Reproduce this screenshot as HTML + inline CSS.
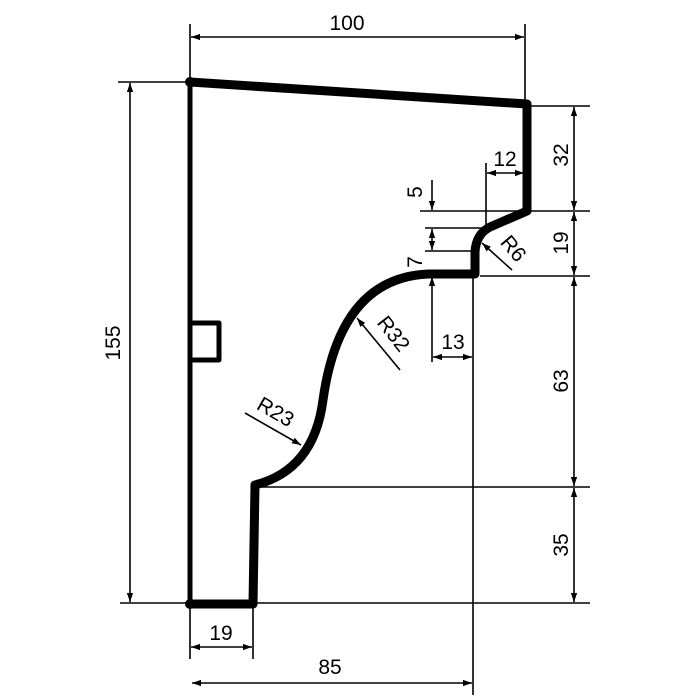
<!DOCTYPE html>
<html><head><meta charset="utf-8"><style>
html,body{margin:0;padding:0;background:#fff;}
svg{display:block;}
text{font-family:"Liberation Sans",Arial,sans-serif;font-size:21px;fill:#000;}
</style></head><body>
<svg width="700" height="700" viewBox="0 0 700 700" xmlns="http://www.w3.org/2000/svg">
<defs>
<marker id="a" viewBox="0 0 10 10" refX="10" refY="5" markerWidth="16" markerHeight="9" markerUnits="userSpaceOnUse" orient="auto-start-reverse">
<path d="M0,1.5 L10,5 L0,8.5 Z" fill="#000"/>
</marker>
</defs>
<g stroke="#000" stroke-width="1.6" fill="none">
<line x1="190" y1="24" x2="190" y2="82"/>
<line x1="525" y1="24" x2="525" y2="104"/>
<line x1="118" y1="82" x2="190" y2="82"/>
<line x1="120" y1="603" x2="590" y2="603"/>
<line x1="530" y1="106" x2="590" y2="106"/>
<line x1="420" y1="211" x2="590" y2="211"/>
<line x1="425" y1="228" x2="488" y2="228"/>
<line x1="425" y1="251" x2="476" y2="251"/>
<line x1="480" y1="276" x2="590" y2="276"/>
<line x1="260" y1="487" x2="590" y2="487"/>
<line x1="486" y1="163" x2="486" y2="228"/>
<line x1="473" y1="276" x2="473" y2="695"/>
<line x1="190" y1="604" x2="190" y2="659"/>
<line x1="253" y1="604" x2="253" y2="659"/>
<line x1="191" y1="37" x2="524" y2="37" marker-start="url(#a)" marker-end="url(#a)"/>
<line x1="130" y1="83" x2="130" y2="602" marker-start="url(#a)" marker-end="url(#a)"/>
<line x1="574" y1="107" x2="574" y2="210" marker-start="url(#a)" marker-end="url(#a)"/>
<line x1="574" y1="212" x2="574" y2="275" marker-start="url(#a)" marker-end="url(#a)"/>
<line x1="574" y1="277" x2="574" y2="486" marker-start="url(#a)" marker-end="url(#a)"/>
<line x1="574" y1="488" x2="574" y2="602" marker-start="url(#a)" marker-end="url(#a)"/>
<line x1="487" y1="173" x2="524" y2="173" marker-start="url(#a)" marker-end="url(#a)"/>
<line x1="432" y1="180" x2="432" y2="210" marker-end="url(#a)"/>
<line x1="432" y1="229" x2="432" y2="250" marker-start="url(#a)" marker-end="url(#a)"/>
<line x1="432" y1="362" x2="432" y2="277" marker-end="url(#a)"/>
<line x1="433" y1="357" x2="472" y2="357" marker-start="url(#a)" marker-end="url(#a)"/>
<line x1="191" y1="647" x2="252" y2="647" marker-start="url(#a)" marker-end="url(#a)"/>
<line x1="192" y1="683" x2="472" y2="683" marker-start="url(#a)" marker-end="url(#a)"/>
<line x1="512" y1="270" x2="482" y2="243" marker-end="url(#a)"/>
<line x1="400" y1="370" x2="357" y2="318" marker-end="url(#a)"/>
<line x1="245" y1="413" x2="301" y2="445" marker-end="url(#a)"/>
</g>
<path d="M190,604 L190,323 L219,323 L219,360 L190,360 L190,82" stroke="#000" stroke-width="5" fill="none" stroke-linejoin="round"/>
<path d="M190,82 L527,104 L527,211 L490,227 Q476,234 475,252 L475,274 L428,274 Q340,278 323,400 Q314,470 255,485 L253,604 L190,604" stroke="#000" stroke-width="9" fill="none" stroke-linejoin="round" stroke-linecap="round"/>
<circle cx="190" cy="82" r="5"/><circle cx="190" cy="604" r="5"/>
<text x="347" y="30" text-anchor="middle">100</text>
<text x="505" y="166" text-anchor="middle">12</text>
<text x="453" y="349" text-anchor="middle">13</text>
<text x="221" y="640" text-anchor="middle">19</text>
<text x="330" y="674" text-anchor="middle">85</text>
<text transform="translate(120,343) rotate(-90)" text-anchor="middle">155</text>
<text transform="translate(568,155) rotate(-90)" text-anchor="middle">32</text>
<text transform="translate(568,243) rotate(-90)" text-anchor="middle">19</text>
<text transform="translate(568,381) rotate(-90)" text-anchor="middle">63</text>
<text transform="translate(568,545) rotate(-90)" text-anchor="middle">35</text>
<text transform="translate(422,192) rotate(-90)" text-anchor="middle">5</text>
<text transform="translate(422,262) rotate(-90)" text-anchor="middle">7</text>
<text transform="translate(508,253) rotate(50)" text-anchor="middle">R6</text>
<text transform="translate(388,338) rotate(52)" text-anchor="middle">R32</text>
<text transform="translate(272,418) rotate(30)" text-anchor="middle">R23</text>
</svg>
</body></html>
